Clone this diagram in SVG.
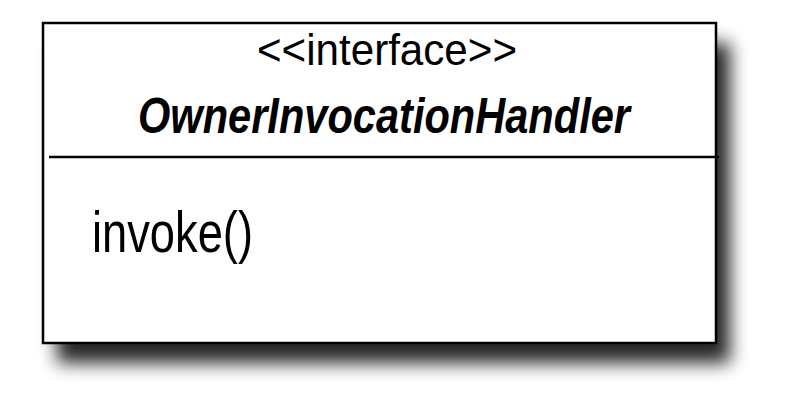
<svg xmlns="http://www.w3.org/2000/svg" width="810" height="401" viewBox="0 0 810 401">
<defs>
<filter id="shadow" x="-10%" y="-10%" width="130%" height="140%">
<feGaussianBlur stdDeviation="9"/>
</filter>
</defs>
<style>
.t{font-family:"Liberation Sans",Arial,sans-serif;fill:#000}
.box{fill:#fff;stroke:#000;stroke-width:2.5}
</style>
<rect width="810" height="401" fill="#fff"/>
<g id="OwnerInvocationHandler">
<rect x="57" y="43" width="673" height="320" fill="#000" opacity="0.85" filter="url(#shadow)"/>
<rect class="box" x="43" y="23" width="673" height="320"/>
<line x1="49" y1="157" x2="719" y2="157" stroke="#000" stroke-width="2.5"/>
<text class="t" x="257" y="65" font-size="45" textLength="260" lengthAdjust="spacingAndGlyphs">&lt;&lt;interface&gt;&gt;</text>
<text class="t" x="138" y="133" font-size="50" font-weight="bold" font-style="italic" textLength="492" lengthAdjust="spacingAndGlyphs">OwnerInvocationHandler</text>
<text class="t" x="92" y="252" font-size="58" textLength="161" lengthAdjust="spacingAndGlyphs">invoke()</text>
</g>
<g id="connectors"/>
</svg>
